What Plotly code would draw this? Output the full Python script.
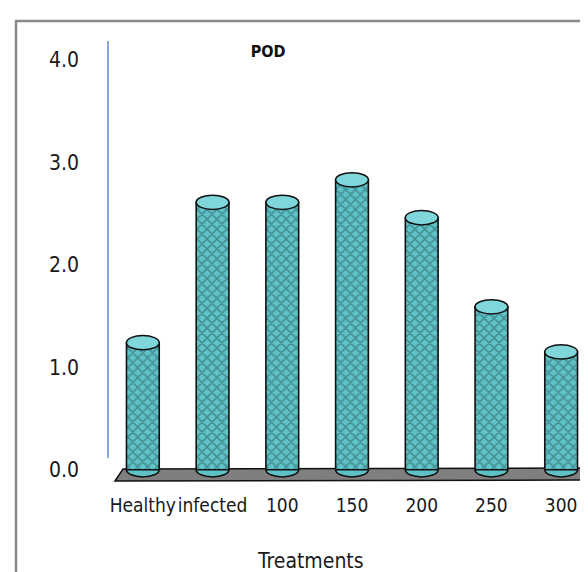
import plotly.graph_objects as go

categories = ["Healthy", "infected", "100", "150", "200", "250", "300"]
pod_values = [1.24, 2.61, 2.61, 2.83, 2.46, 1.59, 1.15]
y_tick_vals = [0, 1, 2, 3, 4]
y_tick_text = ["0.0", "1.0", "2.0", "3.0", "4.0"]

W, H = 588, 572
ML, MR, MT, MB = 100, 0, 33, 98
plot_w = W - ML - MR
plot_h = H - MT - MB
BAR_W = 0.47
FONT = "DejaVu Sans Condensed, Liberation Sans Narrow, Arial Narrow, sans-serif"

def px2paper_x(px):
    return (px - ML) / plot_w

def px2paper_y(py):
    return (H - MB - py) / plot_h

fig = go.Figure()
fig.add_trace(go.Bar(
    x=categories, y=pod_values, width=BAR_W,
    marker=dict(
        color="#5fc4c9",
        line=dict(color="#111111", width=1.6),
        pattern=dict(shape="x", fgcolor="#2a5a5e", size=7, solidity=0.4),
    ),
    hoverinfo="x+y",
))

shapes = []
# floor
fx = [px2paper_x(v) for v in (107, 115, 585, 578)]
fy = [px2paper_y(v) for v in (473, 461, 460, 472)]
shapes.append(dict(type="path", xref="paper", yref="paper", layer="below",
                   path=f"M {fx[0]},{fy[0]} L {fx[1]},{fy[1]} L {fx[2]},{fy[2]} L {fx[3]},{fy[3]} Z",
                   fillcolor="#7f7f7f", line=dict(color="#111111", width=1.5)))
# cylinder bottoms and tops
for i, v in enumerate(pod_values):
    shapes.append(dict(type="circle", xref="x", yref="y", layer="below",
                       x0=i - BAR_W / 2, x1=i + BAR_W / 2, y0=-0.07, y1=0.07,
                       fillcolor="#5fc0c5", line=dict(color="#111111", width=1.5)))
    shapes.append(dict(type="circle", xref="x", yref="y", layer="above",
                       x0=i - BAR_W / 2, x1=i + BAR_W / 2, y0=v - 0.07, y1=v + 0.07,
                       fillcolor="#7fd7db", line=dict(color="#111111", width=1.5)))
# y axis line (blue)
shapes.append(dict(type="line", xref="paper", yref="paper",
                   x0=0, x1=0, y0=px2paper_y(450), y1=px2paper_y(33),
                   line=dict(color="#5b8fd0", width=1.5)))
# outer frame
bx0, bx1 = px2paper_x(8), px2paper_x(587)
by0, by1 = px2paper_y(600), px2paper_y(13)
shapes.append(dict(type="path", xref="paper", yref="paper",
                   path=f"M {bx0},{by0} L {bx0},{by1} L {bx1},{by1} L {bx1},{by0}",
                   line=dict(color="#8a8a8a", width=2.5)))

fig.update_layout(
    width=W, height=H,
    margin=dict(l=ML, r=MR, t=MT, b=MB, autoexpand=False),
    paper_bgcolor="white", plot_bgcolor="white",
    showlegend=False,
    shapes=shapes,
    title=dict(text="<b>POD</b>", x=260 / W, xref="container", xanchor="center",
               y=1 - 43 / H, yref="container", yanchor="middle",
               font=dict(family=FONT, size=16, color="#111111")),
    xaxis=dict(type="category", showgrid=False, showline=False, zeroline=False,
               ticks="", ticklabelstandoff=10, tickangle=0,
               tickfont=dict(family=FONT, size=19, color="#1a1a1a"),
               range=[-0.5, 6.5]),
    yaxis=dict(range=[-0.12, 4.185], tickvals=y_tick_vals, ticktext=y_tick_text,
               showgrid=False, showline=False, zeroline=False, ticks="",
               ticklabelstandoff=28,
               tickfont=dict(family=FONT, size=21, color="#1a1a1a")),
    annotations=[dict(text="Treatments", xref="paper", yref="paper",
                      x=px2paper_x(302), y=px2paper_y(553),
                      xanchor="center", yanchor="middle", showarrow=False,
                      font=dict(family=FONT, size=21, color="#1a1a1a"))],
)

fig.write_html("out.html")
